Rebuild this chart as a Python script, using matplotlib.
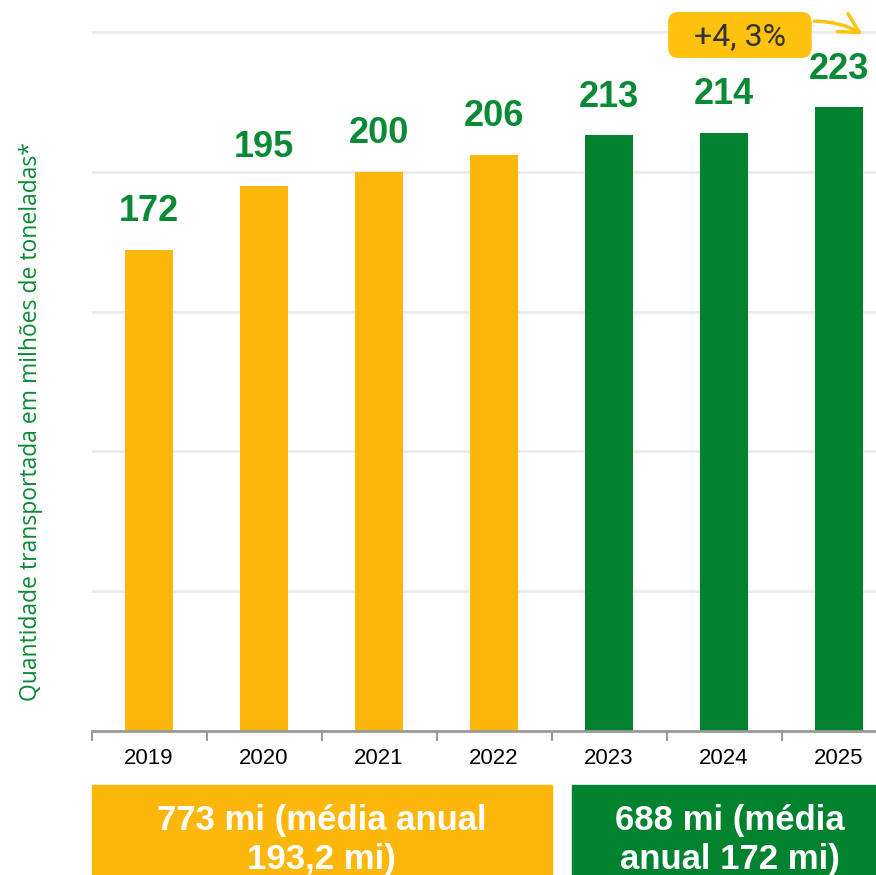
import matplotlib
matplotlib.use("Agg")
import matplotlib.pyplot as plt
from matplotlib.patches import Rectangle, FancyBboxPatch
from matplotlib.transforms import blended_transform_factory

# dados (milhões de toneladas)
anos = ["2019", "2020", "2021", "2022", "2023", "2024", "2025"]
valores = [172, 195, 200, 206, 213, 214, 223]
periodo = ["a", "a", "a", "a", "b", "b", "b"]
totais = ["773 mi (média anual\n193,2 mi)", "688 mi (média\nanual 172 mi)"]
variacao = "+4, 3%"

amarelo = "#FDB70A"
verde = "#00822F"
verde_txt = "#0A8A35"
cores = {"a": amarelo, "b": verde}

fonte = ["Liberation Sans", "DejaVu Sans"]

fig = plt.figure(figsize=(8.76, 8.75), dpi=100)
ax = fig.add_axes([91.5 / 876, 1 - 731 / 875, 1 - 91.5 / 876, 731 / 875])

x = list(range(len(anos)))
ax.bar(x, valores, width=0.41, color=[cores[p] for p in periodo], zorder=3)

for xi, v in zip(x, valores):
    ax.annotate(str(v), (xi, v), xytext=(0, 15), textcoords="offset points",
                ha="center", va="bottom", fontsize=26, fontweight="bold",
                color=verde_txt, family=fonte, zorder=4)

# grade
ax.set_yticks([0, 50, 100, 150, 200, 250])
ax.yaxis.grid(True, color="#ebebeb", linewidth=2, zorder=0)
ax.tick_params(axis="y", length=0, labelleft=False)

ax.set_xticks(x)
ax.set_xticklabels(anos, family=fonte, fontsize=16)
ax.set_xticks([i - 0.5 for i in range(len(anos) + 1)], minor=True)
ax.tick_params(axis="x", which="major", length=0, pad=12)
ax.tick_params(axis="x", which="minor", length=7, width=1.5, color="#9a9a9a", direction="out")

ax.set_xlim(-0.5, (876 - 91.5) / 115 - 0.5)
ax.set_ylim(0, 261.4)

for s in ["top", "right", "left"]:
    ax.spines[s].set_visible(False)
ax.spines["bottom"].set_color("#9a9a9a")
ax.spines["bottom"].set_linewidth(2)
ax.spines["bottom"].set_zorder(5)

fig.text(31 / 876, 1 - 422 / 875, "Quantidade transportada em milhões de toneladas*",
         rotation=90, ha="center", va="center", color=verde_txt, fontsize=16.5,
         family=["Open Sans", "DejaVu Sans"])

# caixas dos períodos
tr = blended_transform_factory(ax.transData, fig.transFigure)
fig.add_artist(Rectangle((-0.5, 0), 4.0, 90 / 875, transform=tr, color=amarelo, clip_on=False))
fig.add_artist(Rectangle((3.678, 0), 3.0, 90 / 875, transform=tr, color=verde, clip_on=False))
fig.text(1.5, 35 / 875, totais[0], transform=tr, ha="center", va="center",
         color="white", fontsize=25, fontweight="bold", family=fonte, linespacing=1.24)
fig.text(5.05, 35 / 875, totais[1], transform=tr, ha="center", va="center",
         color="white", fontsize=25, fontweight="bold", family=fonte, linespacing=1.24)

# variação
caixa = FancyBboxPatch((0.735, 0.9207), 0.183, 0.0629, transform=ax.transAxes,
                       boxstyle="round,pad=0,rounding_size=0.0128", mutation_aspect=1.073,
                       fc="#FFC20E", ec="none", clip_on=False, zorder=6)
ax.add_patch(caixa)
ax.text(0.8265, 0.9505, variacao, transform=ax.transAxes, ha="center", va="center",
        fontsize=23, color="#333333", family=["Roboto", "DejaVu Sans"], zorder=7)
ax.annotate("", xy=(0.986, 0.951), xytext=(0.918, 0.971), xycoords="axes fraction",
            arrowprops=dict(arrowstyle="->,head_length=1.4,head_width=0.75", color="#FFC20E",
                            lw=2.5, connectionstyle="arc3,rad=-0.15"), zorder=6)

fig.savefig("out.png", dpi=100)
